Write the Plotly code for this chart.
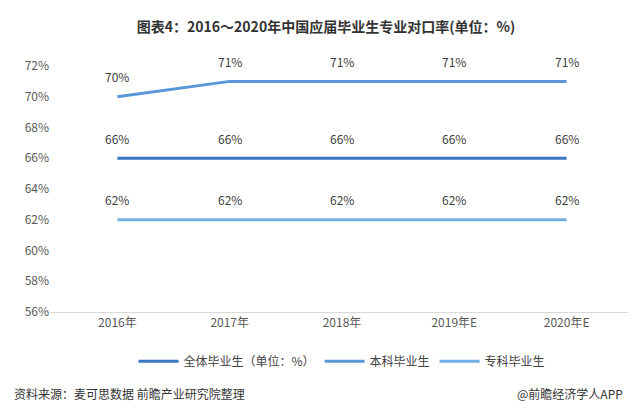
import plotly.graph_objects as go

years = ['2016年', '2017年', '2018年', '2019年E', '2020年E']
overall = [66, 66, 66, 66, 66]
bachelor = [70, 71, 71, 71, 71]
junior = [62, 62, 62, 62, 62]

series = [
    ('全体毕业生（单位：%）', overall, '#3a78c3'),
    ('本科毕业生', bachelor, '#5b96d9'),
    ('专科毕业生', junior, '#74aee6'),
]

fig = go.Figure()
for name, vals, col in series:
    fig.add_trace(go.Scatter(
        x=years, y=vals, name=name, mode='lines',
        line=dict(color=col, width=3),
    ))
    for x, v in zip(years, vals):
        fig.add_annotation(x=x, y=v, text=f'{v}%', showarrow=False, yshift=20,
                           font=dict(size=12, color='#404040'))

fig.update_layout(
    width=636, height=414,
    paper_bgcolor='white', plot_bgcolor='white',
    font=dict(family='Noto Sans CJK SC', color='#595959', size=12),
    title=dict(text='<b>图表4：2016～2020年中国应届毕业生专业对口率(单位：%)</b>',
               x=0.5, xanchor='center', y=0.965, font=dict(size=14, color='#333333')),
    margin=dict(l=42, r=10, t=58, b=110),
    showlegend=True,
    legend=dict(orientation='h', x=0.5, xanchor='center', y=-0.2, yanchor='middle',
                font=dict(size=12, color='#404040'), itemwidth=40),
)
fig.update_xaxes(range=[-0.6, 4.6], showgrid=False, showline=True, linecolor='#d9d9d9',
                 ticks='', tickfont=dict(size=12, color='#595959'))
fig.update_yaxes(range=[56, 72], dtick=2, ticksuffix='%', showgrid=False,
                 zeroline=False, showline=False, tickfont=dict(size=12, color='#595959'))

fig.add_annotation(text='资料来源：麦可思数据 前瞻产业研究院整理', xref='paper', yref='paper',
                   x=-0.065, y=-0.33, xanchor='left', yanchor='middle', showarrow=False,
                   font=dict(size=12, color='#333333'))
fig.add_annotation(text='@前瞻经济学人APP', xref='paper', yref='paper',
                   x=0.985, y=-0.33, xanchor='right', yanchor='middle', showarrow=False,
                   font=dict(size=12, color='#333333'))

fig.write_html('out.html')
